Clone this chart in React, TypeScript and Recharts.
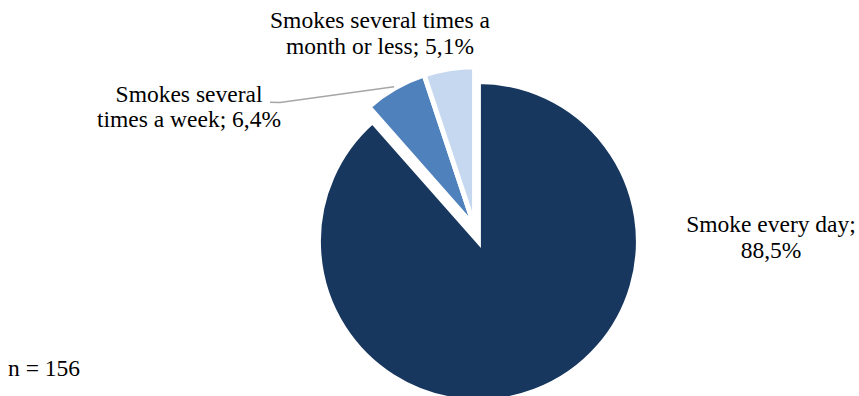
import React from "react";
import { PieChart, Pie, Cell } from "recharts";

// Smoking frequency among smokers (n = 156), share in percent
const categories = ["Smoke every day", "Smokes several times a week", "Smokes several times a month or less"];
const shares = [88.5, 6.4, 5.1];
const sampleSize = 156;

// Text lines shown for each slice label (before the value)
const labelLines: string[][] = [
  ["Smoke every day;"],
  ["Smokes several", "times a week;"],
  ["Smokes several times a", "month or less;"],
];

const COLORS = ["#17375e", "#4f81bd", "#c6d8ef"];
const FONT = "Liberation Serif, Times New Roman, serif";
const FONT_SIZE = 23.5;
const LINE_GAP = 25.5;
const RADIAN = Math.PI / 180;
const START = 90;
const END = -270;
const R = 160;
const MAIN_C = { x: 478.4, y: 241.5 };
const REST_C = { x: 474.6, y: 226.8 };

const data = categories.map((name, i) => ({ name, value: shares[i] }));
const total = shares.reduce((a, b) => a + b, 0);

const fmt = (v: number) => `${v.toFixed(1).replace(".", ",")}%`;

// Label layout: centre x and first baseline y for each slice label
const LABEL_LAYOUT = [
  { x: 771, y: 232 },
  { x: 189, y: 101.7 },
  { x: 380, y: 28 },
];

const polar = (cx: number, cy: number, r: number, angle: number) => ({
  x: cx + Math.cos(-angle * RADIAN) * r,
  y: cy + Math.sin(-angle * RADIAN) * r,
});

// mid angle of a slice, same convention as the Pie
const midAngleOf = (index: number) => {
  const before = shares.slice(0, index).reduce((a, b) => a + b, 0);
  const frac = (before + shares[index] / 2) / total;
  return START + (END - START) * frac;
};

function labelText(index: number): string[] {
  const lines = labelLines[index].slice();
  if (index === 0) return [...lines, fmt(shares[0])];
  lines[lines.length - 1] = `${lines[lines.length - 1]} ${fmt(shares[index])}`;
  return lines;
}

function Labels() {
  const leaderEnd = polar(REST_C.x, REST_C.y, R + 1.5, midAngleOf(1));
  return (
    <svg
      width={859}
      height={396}
      style={{ position: "absolute", left: 0, top: 0, pointerEvents: "none" }}
    >
      <polyline
        points={`270,102.3 280,102.5 ${leaderEnd.x},${leaderEnd.y}`}
        fill="none"
        stroke="#a6a6a6"
        strokeWidth={1.5}
      />
      {LABEL_LAYOUT.map((pos, index) => (
        <text
          key={index}
          x={pos.x}
          y={pos.y}
          textAnchor="middle"
          fontFamily={FONT}
          fontSize={FONT_SIZE}
          fill="#000"
        >
          {labelText(index).map((t, i) => (
            <tspan key={i} x={pos.x} y={pos.y + i * LINE_GAP}>
              {t}
            </tspan>
          ))}
        </text>
      ))}
      <text x={8} y={376} fontFamily={FONT} fontSize={FONT_SIZE} fill="#000">
        n = {sampleSize}
      </text>
    </svg>
  );
}

export default function App() {
  return (
    <div style={{ position: "absolute", left: 0, top: 0, width: 859, height: 396, background: "#fff" }}>
      <PieChart width={859} height={396} margin={{ top: 0, right: 0, bottom: 0, left: 0 }}>
        {/* Daily smokers slice, pulled out from the others */}
        <Pie
          data={data}
          dataKey="value"
          nameKey="name"
          cx={MAIN_C.x}
          cy={MAIN_C.y}
          outerRadius={R}
          startAngle={START}
          endAngle={END}
          isAnimationActive={false}
          label={false}
          labelLine={false}
        >
          {data.map((d, i) => (
            <Cell
              key={d.name}
              fill={i === 0 ? COLORS[0] : "transparent"}
              stroke={i === 0 ? "#ffffff" : "none"}
              strokeWidth={5}
            />
          ))}
        </Pie>
        {/* Occasional smokers slices */}
        <Pie
          data={data}
          dataKey="value"
          nameKey="name"
          cx={REST_C.x}
          cy={REST_C.y}
          outerRadius={R}
          startAngle={START}
          endAngle={END}
          isAnimationActive={false}
          label={false}
          labelLine={false}
        >
          {data.map((d, i) => (
            <Cell
              key={d.name}
              fill={i === 0 ? "transparent" : COLORS[i]}
              stroke={i === 0 ? "none" : "#ffffff"}
              strokeWidth={5}
            />
          ))}
        </Pie>
      </PieChart>
      <Labels />
    </div>
  );
}
